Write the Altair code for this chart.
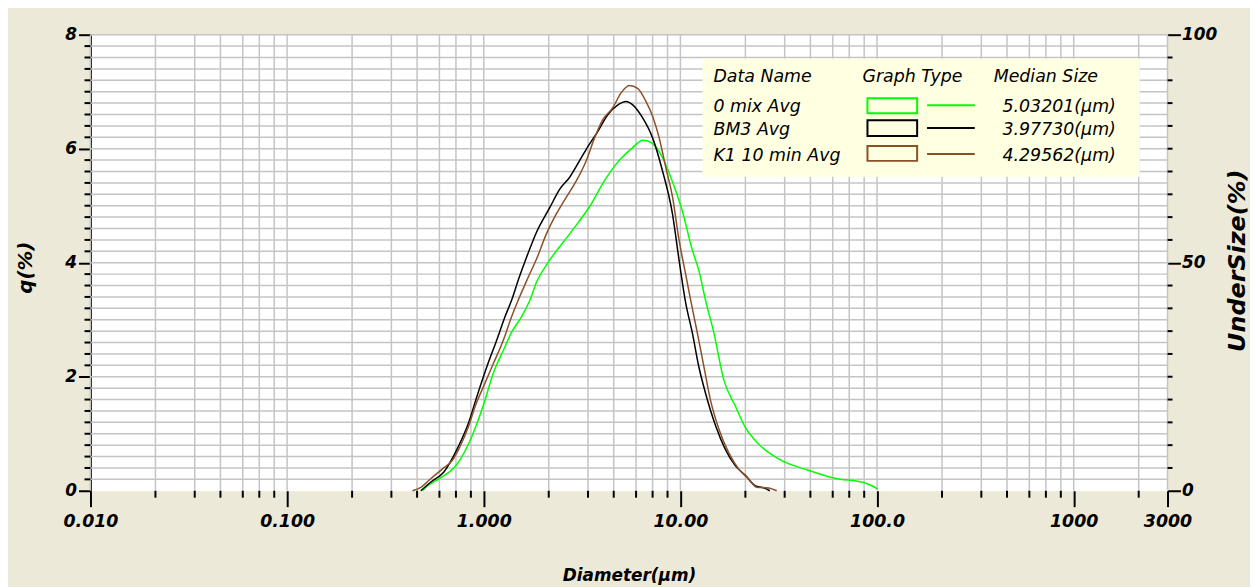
import altair as alt
import pandas as pd
import numpy as np

W, H = 1084, 459

# ---------------- data ----------------
series_names = ["0 mix Avg", "BM3 Avg", "K1 10 min Avg"]
series_colors = ["#00FF00", "#000000", "#8B5028"]
median_sizes = ["5.03201(µm)", "3.97730(µm)", "4.29562(µm)"]

green_d = [0.488, 0.516, 0.592, 0.733, 0.872, 1.0, 1.12, 1.26, 1.39, 1.56, 1.72, 1.86, 2.13,
           2.74, 3.52, 4.11, 4.71, 5.72, 6.43, 7.08, 7.95, 8.93, 10.2, 11.5, 12.4, 13.4, 14.8,
           16.6, 19.0, 21.4, 25.5, 31.5, 44.7, 60.9, 86.3, 101.0]
green_q = [0.0, 0.08, 0.21, 0.47, 0.96, 1.52, 2.07, 2.47, 2.79, 3.06, 3.35, 3.67, 4.01,
           4.51, 5.03, 5.44, 5.73, 6.02, 6.15, 6.11, 5.90, 5.50, 4.92, 4.22, 3.87, 3.35, 2.77,
           1.95, 1.49, 1.11, 0.79, 0.56, 0.36, 0.22, 0.14, 0.03]

black_d = [0.478, 0.537, 0.627, 0.732, 0.839, 0.924, 1.038, 1.166, 1.285, 1.388, 1.51, 1.652,
           1.857, 2.168, 2.435, 2.735, 3.07, 3.32, 3.81, 4.28, 4.81, 5.29, 5.72, 6.43, 7.22,
           8.11, 9.12, 9.84, 10.63, 11.5, 12.4, 13.4, 15.1, 16.9, 19.0, 21.4, 24.0, 26.5, 28.5]
black_q = [0.0, 0.15, 0.33, 0.73, 1.20, 1.66, 2.18, 2.65, 3.06, 3.35, 3.73, 4.10,
           4.54, 4.97, 5.29, 5.50, 5.79, 5.99, 6.31, 6.60, 6.77, 6.83, 6.77, 6.54, 6.19,
           5.61, 4.85, 4.05, 3.30, 2.77, 2.18, 1.72, 1.14, 0.73, 0.44, 0.27, 0.09, 0.05, 0.0]

brown_d = [0.434, 0.478, 0.537, 0.615, 0.691, 0.761, 0.839, 0.906, 1.0, 1.122, 1.26, 1.388,
           1.50, 1.67, 1.857, 2.085, 2.343, 2.63, 2.96, 3.32, 3.66, 4.03, 4.53, 4.99, 5.50,
           6.06, 6.68, 7.22, 7.80, 8.43, 9.12, 9.84, 10.63, 11.27, 12.19, 13.16, 14.2, 15.7,
           17.6, 19.8, 22.2, 24.5, 28.0, 30.9]
brown_q = [0.0, 0.06, 0.21, 0.38, 0.53, 0.79, 1.14, 1.49, 1.84, 2.24, 2.65, 3.06,
           3.35, 3.72, 4.07, 4.51, 4.86, 5.15, 5.44, 5.79, 6.19, 6.51, 6.72, 6.98, 7.11,
           7.06, 6.83, 6.57, 6.19, 5.67, 5.15, 4.40, 3.80, 3.35, 2.77, 2.18, 1.60, 1.08,
           0.67, 0.38, 0.21, 0.06, 0.05, 0.0]

x_major = [0.01, 0.1, 1, 10, 100, 1000, 3000]
x_major_labels = ["0.010", "0.100", "1.000", "10.00", "100.0", "1000", "3000"]
x_minor_mult = [2.14, 3.39, 4.58, 5.95, 7.22, 8.60]
x_decades = [-2, -1, 0, 1, 2, 3]

y_major = [0, 2, 4, 6, 8]
y_step = 0.2
u_major = [0, 50, 100]
u_step = 5

# ---------------- derived tables ----------------
x_minor = [round(10.0 ** d * m, 6) for d in x_decades for m in x_minor_mult if 10.0 ** d * m < 3000]
vgrid_df = pd.DataFrame({"d": x_major + x_minor})
xminor_df = pd.DataFrame({"d": x_minor})
q_all = [round(v, 1) for v in np.arange(y_step, 8.0001, y_step)]
hgrid_df = pd.DataFrame({"q": q_all})
qminor_df = pd.DataFrame({"q": [v for v in q_all if v not in y_major]})
u_all = list(range(0, 101, u_step))
uminor_df = pd.DataFrame({"u": [v for v in u_all if v not in u_major]})

curves = pd.concat([
    pd.DataFrame({"d": green_d, "q": green_q, "series": series_names[0]}),
    pd.DataFrame({"d": black_d, "q": black_q, "series": series_names[1]}),
    pd.DataFrame({"d": brown_d, "q": brown_q, "series": series_names[2]}),
], ignore_index=True)

label_expr = "".join(f"datum.value < {v * 1.5} ? '{lab}' : " for v, lab in zip(x_major, x_major_labels)) + "''"

FONT = "DejaVu Sans"
GRID = "#C4C4C4"
xscale = alt.Scale(type="log", domain=[0.01, 3000], nice=False)
yscale = alt.Scale(domain=[0, 8], nice=False, zero=True)

xaxis = alt.Axis(
    values=x_major, labelExpr=label_expr, tickSize=16, tickWidth=2, tickColor="black",
    domain=False, grid=False, labelPadding=6, labelFlush=False, labelOverlap=False,
    labelFontSize=17.5,
    title="Diameter(µm)", titleFontSize=17, titleY=90, titleX=W / 2,
    titleBaseline="alphabetic", titleAlign="center")
yaxis = alt.Axis(
    values=y_major, tickSize=12, tickWidth=2, tickColor="black", domainColor="black",
    domainWidth=2, grid=False, labelPadding=2, title="q(%)", titleFontSize=20,
    titleAngle=270, titleX=-65, titleY=234, titleAlign="center", titleBaseline="middle")

X = lambda: alt.X("d:Q", scale=xscale, axis=xaxis)
Y = lambda: alt.Y("q:Q", scale=yscale, axis=yaxis)

vgrid = alt.Chart(vgrid_df).mark_rule(color=GRID, strokeWidth=1.5).encode(
    x=X(), y=alt.value(0), y2=alt.value(H))
hgrid = alt.Chart(hgrid_df).mark_rule(color=GRID, strokeWidth=1.5).encode(
    y=Y(), x=alt.value(0), x2=alt.value(W))

lines = alt.Chart(curves).mark_line(strokeWidth=1.5, interpolate="monotone").encode(
    x=X(), y=Y(),
    color=alt.Color("series:N", scale=alt.Scale(domain=series_names, range=series_colors), legend=None),
    order=alt.Order("d:Q"),
)

xminor = alt.Chart(xminor_df).mark_rule(color="black", strokeWidth=2).encode(
    x=X(), y=alt.value(H), y2=alt.value(H + 7))
qminor = alt.Chart(qminor_df).mark_rule(color="black", strokeWidth=2).encode(
    y=Y(), x=alt.value(-6), x2=alt.value(0))

# ---------------- legend box ----------------
LEG_BG = "#FFFFE1"
one = pd.DataFrame({"k": [0]})
legend_layers = [
    alt.Chart(one).mark_rect(fill=LEG_BG).encode(
        x=alt.value(616), x2=alt.value(1056), y=alt.value(24), y2=alt.value(143))
]
headers = ["Data Name", "Graph Type", "Median Size"]
header_x = [627, 777, 909]
for txt, hx in zip(headers, header_x):
    legend_layers.append(alt.Chart(pd.DataFrame({"t": [txt]})).mark_text(
        font=FONT, fontSize=17.5, fontStyle="italic", align="left", baseline="alphabetic",
        color="black").encode(text="t:N", x=alt.value(hx), y=alt.value(48)))
row_base = [78, 101, 127]
row_rect = [(64, 79), (86, 102), (112, 127)]
row_line = [71, 94, 120]
for name, col, med, yb, (r0, r1), yl in zip(series_names, series_colors, median_sizes,
                                             row_base, row_rect, row_line):
    legend_layers.append(alt.Chart(pd.DataFrame({"t": [name]})).mark_text(
        font=FONT, fontSize=17.5, fontStyle="italic", align="left", baseline="alphabetic",
        color="black").encode(text="t:N", x=alt.value(627), y=alt.value(yb)))
    legend_layers.append(alt.Chart(pd.DataFrame({"t": [med]})).mark_text(
        font=FONT, fontSize=17.5, fontStyle="italic", align="right", baseline="alphabetic",
        color="black").encode(text="t:N", x=alt.value(1032), y=alt.value(yb)))
    legend_layers.append(alt.Chart(one).mark_rect(fill=LEG_BG, stroke=col, strokeWidth=2).encode(
        x=alt.value(782), x2=alt.value(832), y=alt.value(r0), y2=alt.value(r1)))
    legend_layers.append(alt.Chart(one).mark_rule(color=col, strokeWidth=2).encode(
        x=alt.value(842), x2=alt.value(890), y=alt.value(yl)))

main = alt.layer(vgrid, hgrid, *legend_layers, lines, xminor, qminor)

right = alt.Chart(uminor_df).mark_rule(color="black", strokeWidth=2).encode(
    y=alt.Y("u:Q", scale=alt.Scale(domain=[0, 100], nice=False), axis=alt.Axis(
        orient="right", values=u_major, tickSize=13, tickWidth=2, tickColor="black",
        domain=False, grid=False, labelPadding=1, title="UnderSize(%)", titleFontSize=24,
        titleAngle=270, titleX=70, titleY=227, titleAlign="center", titleBaseline="middle")),
    x=alt.value(W), x2=alt.value(W + 5))

chart = alt.layer(main, right).resolve_scale(y="independent").properties(
    width=W, height=H,
    autosize=alt.AutoSizeParams(type="none"),
    padding={"left": 83, "top": 25, "right": 83, "bottom": 95},
).configure(background="#ECE9D8").configure_view(
    fill="#FFFFFF", stroke="transparent"
).configure_axis(
    labelFont=FONT, labelFontSize=17, labelFontWeight="bold", labelFontStyle="italic",
    labelColor="black", titleFont=FONT, titleFontWeight="bold", titleFontStyle="italic",
    titleColor="black",
)

chart.save("out.html", embed_options={"renderer": "svg", "actions": False})
